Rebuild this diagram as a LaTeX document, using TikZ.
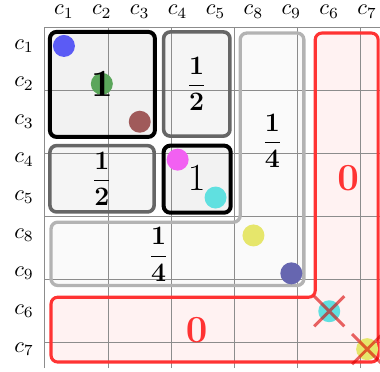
\documentclass[tikz,border=0pt]{standalone}
\usetikzlibrary{shapes.misc}
\definecolor{gridc}{HTML}{8C8C8C}
\definecolor{dgray}{HTML}{666666}
\definecolor{lgray}{HTML}{B3B3B3}
\definecolor{redc}{HTML}{FF3333}
\definecolor{fillA}{HTML}{F2F2F2}
\definecolor{fillB}{HTML}{F5F5F5}
\definecolor{fillC}{HTML}{FAFAFA}
\definecolor{fillR}{HTML}{FFF2F2}
\definecolor{dblue}{HTML}{5B5BF5}
\definecolor{dgreen}{HTML}{5BA65B}
\definecolor{dbrown}{HTML}{A05A5A}
\definecolor{dmag}{HTML}{F260F2}
\definecolor{dcyan}{HTML}{60E0E0}
\definecolor{dyel}{HTML}{E6E66B}
\definecolor{dslate}{HTML}{6666B0}
\newcommand{\myfrac}[2]{$\displaystyle\frac{\mathbf{#1}}{\mathbf{#2}}$}
\tikzset{
  gridline/.style={draw=gridc, line width=0.45pt},
  blackbox/.style={draw=black, line width=1.8pt, fill=fillA, rounded corners=3pt},
  graybox/.style={draw=dgray, line width=1.6pt, fill=fillB, rounded corners=3pt},
  lightbox/.style={draw=lgray, line width=1.5pt, fill=fillC, rounded corners=3pt},
  redbox/.style={draw=redc, line width=1.4pt, fill=fillR, rounded corners=3pt},
  dot/.style={circle, inner sep=0pt, minimum size=0.58*0.6cm},
  xm/.style={cross out, draw=red!85!black, draw opacity=0.6, line width=1.3pt, minimum size=0.72*0.6cm, inner sep=0pt},
  lab/.style={inner sep=0pt},
  fraclab/.style={inner sep=0pt, font=\large},
  biglab/.style={inner sep=0pt, font=\LARGE},
}
\begin{document}
\begin{tikzpicture}[x=0.6cm, y=-0.6cm]
\useasboundingbox (-1.187,-0.712) rectangle (8.839,9.077);
% fills
\path[redbox, draw=none] (7.13,0.16) -- (8.79,0.16) -- (8.79,8.84) -- (0.16,8.84) -- (0.16,7.13) -- (7.13,7.13) -- cycle;
\path[lightbox, draw=none] (5.15,0.16) -- (6.83,0.16) -- (6.83,6.82) -- (0.16,6.82) -- (0.16,5.15) -- (5.15,5.15) -- cycle;
\path[blackbox, draw=none] (0.13,0.13) rectangle (2.9,2.9);
\path[blackbox, draw=none] (3.13,3.13) rectangle (4.9,4.9);
\path[graybox, draw=none] (3.13,0.13) rectangle (4.88,2.88);
\path[graybox, draw=none] (0.13,3.13) rectangle (2.88,4.88);
% grid
\draw[gridline] (0,0) grid (9,9);
% outlines
\draw[redbox, fill=none] (7.13,0.16) -- (8.79,0.16) -- (8.79,8.84) -- (0.16,8.84) -- (0.16,7.13) -- (7.13,7.13) -- cycle;
\draw[lightbox, fill=none] (5.15,0.16) -- (6.83,0.16) -- (6.83,6.82) -- (0.16,6.82) -- (0.16,5.15) -- (5.15,5.15) -- cycle;
\draw[blackbox, fill=none] (0.13,0.13) rectangle (2.9,2.9);
\draw[blackbox, fill=none] (3.13,3.13) rectangle (4.9,4.9);
\draw[graybox, fill=none] (3.13,0.13) rectangle (4.88,2.88);
\draw[graybox, fill=none] (0.13,3.13) rectangle (2.88,4.88);
% axis labels
\foreach \n [count=\i from 0] in {1,2,3,4,5,8,9,6,7} {
  \node[lab] (col\n) at (\i+0.5,-0.4) {$c_{\n}$};
  \node[lab] (row\n) at (-0.55,\i+0.5) {$c_{\n}$};
}
% dots
\node[dot, fill=dblue] (p1) at (0.5,0.5) {};
\node[dot, fill=dgreen] (p2) at (1.5,1.5) {};
\node[dot, fill=dbrown] (p3) at (2.5,2.5) {};
\node[dot, fill=dmag] (p4) at (3.5,3.5) {};
\node[dot, fill=dcyan] (p5) at (4.5,4.5) {};
\node[dot, fill=dyel] (p8) at (5.5,5.5) {};
\node[dot, fill=dslate] (p9) at (6.5,6.5) {};
\node[dot, fill=dcyan] (p6) at (7.5,7.5) {};
\node[dot, fill=dyel] (p7) at (8.5,8.5) {};
% labels
\node[biglab] (v1) at (1.5,1.5) {$\mathbf{1}$};
\node[fraclab] (v2) at (4,1.5) {\myfrac{1}{2}};
\node[fraclab] (v3) at (1.5,4) {\myfrac{1}{2}};
\node[biglab] (v4) at (4,4) {$1$};
\node[fraclab] (v5) at (6,3) {\myfrac{1}{4}};
\node[fraclab] (v6) at (3,6) {\myfrac{1}{4}};
\node[biglab, text=redc] (v7) at (8,4) {$\mathbf{0}$};
\node[biglab, text=redc] (v8) at (4,8) {$\mathbf{0}$};
% crosses
\node[xm] (x6) at (7.5,7.5) {};
\node[xm] (x7) at (8.5,8.5) {};
\end{tikzpicture}
\end{document}
